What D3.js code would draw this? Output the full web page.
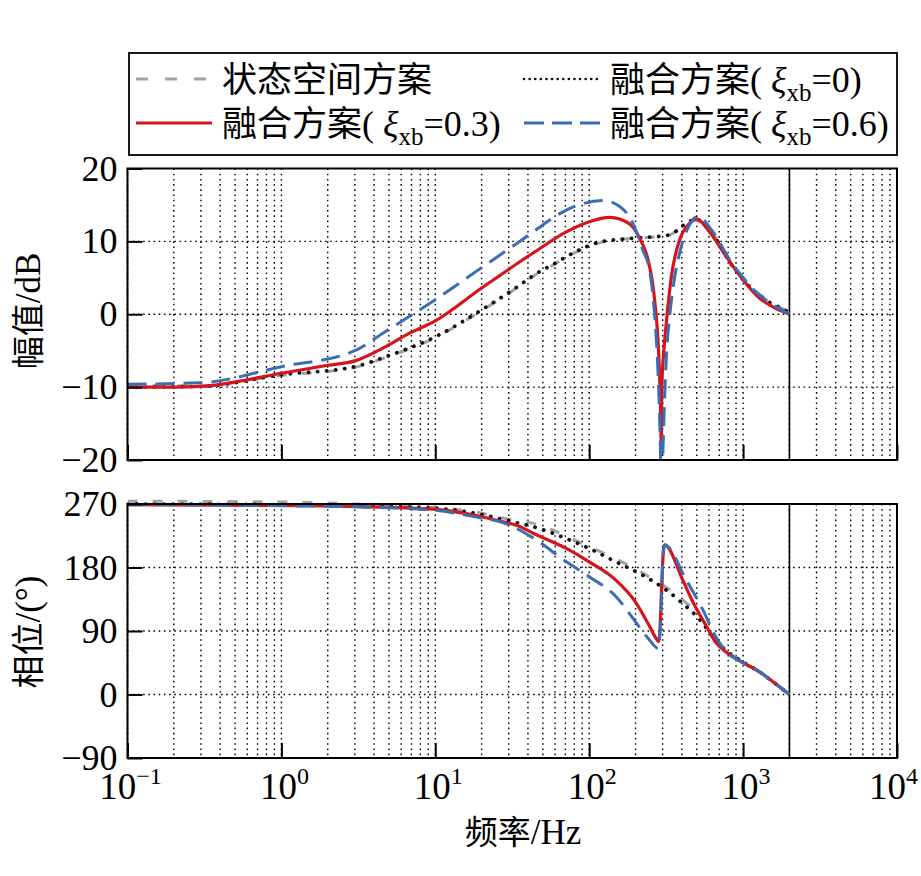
<!DOCTYPE html>
<html><head><meta charset="utf-8">
<script src="https://cdn.jsdelivr.net/npm/d3@7"></script>
<style>body{margin:0;background:#fff}</style>
</head><body>
<svg id="c" width="921" height="876" xmlns="http://www.w3.org/2000/svg"></svg>
<script>
// ---------------- data ----------------
const xTicks = [0.1, 1, 10, 100, 1000, 10000];
const xTickExp = ["\u22121", "0", "1", "2", "3", "4"];
const magTicks = [-20, -10, 0, 10, 20];
const phaseTicks = [-90, 0, 90, 180, 270];
const nyquistHz = 2000;

const seriesNames = ["状态空间方案", "融合方案(ξxb=0)", "融合方案(ξxb=0.3)", "融合方案(ξxb=0.6)"];
const seriesXi = [null, "0", "0.3", "0.6"];

// magnitude (dB) [Hz, dB]
const magState = [[0.1,-9.8],[0.3,-9.8],[1,-8.4],[3,-7.3],[4.8,-5.9],[10,-3.2],[20,0.5],[28.2,2.5],[35.4,3.9],[43.2,5.2],[60,6.9],[82,8.5],[117,9.8],[213,10.5],[317,10.7],[397,11.9],[497,12.9],[637,11.0],[860,6.8],[1220,3.1],[1727,1.0],[2000,0.3]];
const magXi0 = [[0.1,-10],[0.3,-9.9],[1,-8.3],[3,-7.2],[4.8,-5.8],[10,-3.1],[20,0.6],[28.2,2.6],[35.4,4.0],[43.2,5.3],[60,7.0],[82,8.6],[117,9.9],[213,10.5],[317,10.8],[368,11.4],[397,12.0],[497,13.0],[637,10.9],[860,6.5],[1220,2.9],[1727,0.9],[2000,0.3]];
const magXi03 = [[0.1,-10],[0.2,-10],[0.3,-9.9],[1,-8.1],[2,-7.0],[3,-6.4],[4.8,-4.4],[6.8,-2.6],[10,-0.9],[20,3.6],[26.2,5.3],[35.4,7.2],[43.2,8.4],[71,11.3],[100,12.7],[136,13.3],[183,12.4],[213,10.4],[241,7.5],[266,2.0],[282,-4.9],[290,-11.8],[294,-17.5],[297,-9.4],[307,-4.5],[317,-1.2],[342,5.2],[387,10.2],[450,12.5],[497,13.1],[606,11.3],[778,7.9],[1000,4.7],[1280,2.2],[1563,1.0],[2000,0]];
const magXi06 = [[0.1,-9.6],[0.3,-9.4],[1,-7.2],[3,-5.0],[4.8,-2.3],[10,2.0],[20,6.4],[26.2,8.1],[35.4,10.0],[43.2,11.3],[71,14.3],[123,15.6],[158,14.8],[192,12.5],[223,8.8],[247,6.0],[266,0],[280,-8],[290,-18],[295,-26],[302,-18],[317,-6],[333,-0.3],[350,3.5],[397,9.3],[450,12.3],[508,13.4],[637,11.3],[817,7.5],[1000,5.0],[1280,2.6],[1563,1.3],[2000,0]];

// phase (deg) [Hz, deg]
const phState = [[0.1,274],[1,273],[3,270],[10,265],[20,257],[26.2,251],[43.2,242.6],[100,209.5],[223,172],[406,134],[523,111],[600,92],[700,72],[1000,46],[1280,32],[1563,18],[2000,0]];
const phXi0 = [[0.1,270],[1,269],[3,267.5],[10,264],[20,255],[31.6,245],[43,238],[71,221],[100,207],[149,188],[223,169],[317,148],[406,129],[523,106],[637,82],[778,62],[1000,46],[1280,32],[1563,18],[2000,0]];
const phXi03 = [[0.1,269],[1,268],[3,266.5],[10,262.5],[20,252],[26.2,246],[35.4,238],[43.2,228.5],[71,207],[100,188],[149,162],[200,131],[245,98],[275,78],[282,75],[286,82],[304,205],[309,212],[406,162],[472,131],[577,97],[664,74],[778,60],[1000,45],[1280,32],[1563,18],[2000,0]];
const phXi06 = [[0.1,269],[1,267.5],[3,266],[10,261],[20,250],[26.2,245],[43.2,222],[71,188],[100,167],[149,139],[200,103],[245,78],[280,65.5],[285,72],[304,205],[309,212],[428,162],[548,120],[664,82],[778,61],[1000,45],[1280,32],[1563,18],[2000,0]];

// ---------------- layout / style ----------------
const svg = d3.select("#c");
svg.append("rect").attr("width",921).attr("height",876).attr("fill","#fff");
const L = 127.5, R = 897;
const magBox = {top:168.5, bottom:460};
const phBox = {top:504, bottom:758};
const x = d3.scaleLog().domain([0.1, 10000]).range([L, R]);
const yM = d3.scaleLinear().domain([-20, 20]).range([magBox.bottom, magBox.top]);
const yP = d3.scaleLinear().domain([-90, 270]).range([phBox.bottom, phBox.top]);

const latin = "'Liberation Serif','Times New Roman',serif";
const cjk = "'Noto Sans CJK SC','Noto Sans CJK JP',sans-serif";

const styles = [
  {stroke:"#a3a3a3", width:3, dash:"10,15", cap:"butt"},
  {stroke:"#111", width:3.8, dash:"0.1,9", cap:"round"},
  {stroke:"#d6141c", width:3.2, dash:null, cap:"butt"},
  {stroke:"#3b6db4", width:3, dash:"19,9", cap:"butt"}
];

const minorVals = [];
for (let k = -1; k <= 3; k++) for (let m = 1; m <= 9; m++) minorVals.push(m * Math.pow(10, k));
minorVals.push(10000);

function panel(box, y, ticks, data, id, withLabels) {
  const g = svg.append("g");
  g.selectAll(".vg").data(minorVals).join("line")
    .attr("x1", d => x(d)).attr("x2", d => x(d))
    .attr("y1", box.top).attr("y2", box.bottom)
    .attr("stroke", "#000").attr("stroke-width", 1.4).attr("stroke-dasharray", "1.6,3.6");
  g.selectAll(".hg").data(ticks.slice(1, -1)).join("line")
    .attr("x1", L).attr("x2", R).attr("y1", d => y(d)).attr("y2", d => y(d))
    .attr("stroke", "#000").attr("stroke-width", 1.4).attr("stroke-dasharray", "1.6,3.6");
  g.append("line").attr("x1", x(nyquistHz)).attr("x2", x(nyquistHz))
    .attr("y1", box.top).attr("y2", box.bottom).attr("stroke", "#000").attr("stroke-width", 1.6);
  svg.append("clipPath").attr("id", id).append("rect")
    .attr("x", L).attr("y", box.top - 6).attr("width", R - L).attr("height", box.bottom - box.top + 6);
  const line = d3.line().x(d => x(d[0])).y(d => y(d[1])).curve(d3.curveMonotoneX);
  const lg = g.append("g").attr("clip-path", `url(#${id})`);
  data.forEach((s, i) => {
    const st = styles[i];
    lg.append("path").attr("d", line(s)).attr("fill", "none")
      .attr("stroke", st.stroke).attr("stroke-width", st.width)
      .attr("stroke-dasharray", st.dash).attr("stroke-linecap", st.cap)
      .attr("stroke-linejoin", "round");
  });
  const ay = d3.axisLeft(y).tickValues(ticks).tickSize(-15).tickPadding(10);
  const gy = g.append("g").attr("transform", `translate(${L},0)`).call(ay);
  gy.select(".domain").remove();
  gy.selectAll(".tick line").attr("stroke", "#000").attr("stroke-width", 2);
  gy.selectAll(".tick text").attr("font-family", latin).attr("font-size", 36).attr("fill", "#000")
    .attr("dy", "0.32em");
  const ax = d3.axisBottom(x).tickValues(xTicks).tickSize(-15).tickFormat("");
  const gx = g.append("g").attr("transform", `translate(0,${box.bottom})`).call(ax);
  gx.select(".domain").remove();
  gx.selectAll(".tick line").attr("stroke", "#000").attr("stroke-width", 2);
  g.append("rect").attr("x", L).attr("y", box.top).attr("width", R - L).attr("height", box.bottom - box.top)
    .attr("fill", "none").attr("stroke", "#000").attr("stroke-width", 2);
  if (withLabels) {
    xTicks.forEach((v, i) => {
      const t = g.append("text").attr("x", x(v) + 3).attr("y", box.bottom + 41)
        .attr("text-anchor", "middle").attr("font-family", latin).attr("font-size", 37).attr("fill", "#000");
      t.append("tspan").text("10");
      t.append("tspan").attr("font-size", 24).attr("dy", -15).text(xTickExp[i]);
      const w = t.node().getComputedTextLength();
      const cx = Math.min(x(v) + 3, 921 - w / 2 - 3);
      t.attr("x", cx);
    });
  }
}

panel(magBox, yM, magTicks, [magState, magXi0, magXi03, magXi06], "clipM", false);
panel(phBox, yP, phaseTicks, [phState, phXi0, phXi03, phXi06], "clipP", true);

function mixedText(g, parts, cjkSize) {
  parts.forEach(p => {
    const ts = g.append("tspan").text(p.t)
      .attr("font-family", p.c ? cjk : latin).attr("font-size", p.s || (p.c ? (cjkSize || 33) : 35));
    if (p.dy) ts.attr("dy", p.dy);
    if (p.it) ts.attr("font-style", "italic");
  });
}
const yt1 = svg.append("text").attr("transform", "translate(40,311) rotate(-90)").attr("text-anchor", "middle").attr("fill", "#000");
mixedText(yt1, [{t:"幅值", c:true}, {t:"/dB"}]);
const yt2 = svg.append("text").attr("transform", "translate(40,632) rotate(-90)").attr("text-anchor", "middle").attr("fill", "#000");
mixedText(yt2, [{t:"相位", c:true}, {t:"/(°)"}]);
const xt = svg.append("text").attr("x", 523).attr("y", 844).attr("text-anchor", "middle").attr("fill", "#000");
mixedText(xt, [{t:"频率", c:true}, {t:"/Hz"}]);

// legend
const lgBox = {x:129, y:53, w:768, h:102};
svg.append("rect").attr("x", lgBox.x).attr("y", lgBox.y).attr("width", lgBox.w).attr("height", lgBox.h)
  .attr("fill", "#fff").attr("stroke", "#000").attr("stroke-width", 1.8);
const legPos = [
  {x1:136, x2:212, y:79, tx:222},
  {x1:524, x2:600, y:79, tx:610},
  {x1:136, x2:212, y:123, tx:222},
  {x1:524, x2:607, y:123, tx:610}
];
const legDash = ["12,17", "0.1,5.5", null, "20,8"];
seriesNames.forEach((name, i) => {
  const p = legPos[i], st = styles[i];
  svg.append("line").attr("x1", p.x1).attr("x2", p.x2).attr("y1", p.y).attr("y2", p.y)
    .attr("stroke", st.stroke).attr("stroke-width", i === 1 ? 2.6 : st.width)
    .attr("stroke-dasharray", legDash[i]).attr("stroke-linecap", st.cap);
  const t = svg.append("text").attr("x", p.tx).attr("y", p.y + 13).attr("fill", "#000");
  if (seriesXi[i] === null) {
    mixedText(t, [{t:name, c:true}], 35);
  } else {
    mixedText(t, [{t:"融合方案", c:true}, {t:"( ", s:36}, {t:"ξ", s:36, it:true},
      {t:"xb", s:25, dy:9}, {t:"=" + seriesXi[i] + ")", s:36, dy:-9}], 35);
  }
});
</script>
</body></html>
